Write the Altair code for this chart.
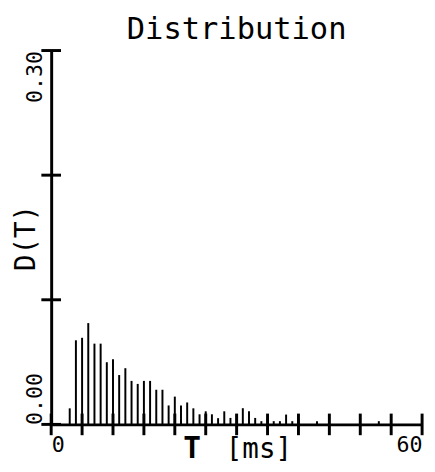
import altair as alt
import pandas as pd

# bar data
T_ms = [3, 4, 5, 6, 7, 8, 9, 10, 11, 12, 13, 14, 15, 16, 17, 18, 19, 20,
        21, 22, 23, 24, 25, 26, 27, 28, 29, 30, 31, 32, 33, 34, 35, 36, 37,
        38, 39, 40, 43, 53]
D_T = [0.0129, 0.0675, 0.0695, 0.0813, 0.0648, 0.0648, 0.0499, 0.0522,
       0.0396, 0.0451, 0.0349, 0.0325, 0.0349, 0.0349, 0.0278, 0.0278,
       0.0152, 0.0223, 0.0152, 0.0176, 0.0129, 0.0081, 0.0105, 0.0081,
       0.0050, 0.0105, 0.0052, 0.0084, 0.0130, 0.0105, 0.0052, 0.0026,
       0.0050, 0.0026, 0.0026, 0.0079, 0.0026, 0.0040, 0.0026, 0.0026]

x_ticks = [0, 5, 10, 15, 20, 25, 30, 35, 40, 45, 50, 55, 60]
y_ticks = [0.0, 0.1, 0.2, 0.3]
x_labels = [0, 60]
y_labels = [0.0, 0.3]
chart_title = "Distribution"
x_title_parts = ["T", "[ms]"]
x_title_pos = [22.8, 33.6]  # in ms, where each part is centred
x_title_weight = ["bold", "normal"]

FONT = "DejaVu Sans Mono"
xs = alt.Scale(domain=[0, 60], nice=False, zero=False, padding=0)
ys = alt.Scale(domain=[0, 0.3], nice=False, padding=0)

bars = pd.DataFrame({"T": T_ms, "D": D_T})
xt = pd.DataFrame({"T": x_ticks})
yt = pd.DataFrame({"D": y_ticks})

x_axis = alt.Axis(values=x_labels, format="d", labelFlush=True, ticks=False,
                  grid=False, domainWidth=3, domainColor="black",
                  labelFont=FONT, labelFontSize=22, labelColor="black",
                  labelPadding=11, title=None)
y_axis = alt.Axis(values=y_labels, format=".2f", labelFlush=False,
                  ticks=False, grid=False, domainWidth=3, domainColor="black",
                  labelAngle=270,
                  labelAlign={"condition": {"test": "datum.value < 0.15",
                                            "value": "left"},
                              "value": "right"},
                  labelBaseline="alphabetic", labelPadding=10,
                  labelFont=FONT, labelFontSize=22, labelColor="black",
                  title="D(T)", titleFont=FONT, titleFontSize=28,
                  titleFontWeight="normal", titleColor="black",
                  titleAngle=270, titleBaseline="middle", titleX=-25)

bar_layer = alt.Chart(bars).mark_bar(size=2, color="black").encode(
    x=alt.X("T:Q", scale=xs, axis=x_axis),
    y=alt.Y("D:Q", scale=ys, axis=y_axis),
)

xtick_layer = alt.Chart(xt).mark_tick(
    orient="vertical", size=22, thickness=3, color="black", opacity=1
).encode(
    x=alt.X("T:Q", scale=xs),
    y=alt.datum(0),
)

ytick_layer = alt.Chart(yt).mark_tick(
    orient="horizontal", size=20, thickness=3, color="black", opacity=1
).encode(
    y=alt.Y("D:Q", scale=ys),
    x=alt.datum(0),
)

title_layer = alt.Chart(pd.DataFrame({"t": [chart_title]})).mark_text(
    font=FONT, fontSize=31, color="black", baseline="alphabetic",
    align="center"
).encode(
    text="t:N",
    x=alt.datum(30),
    y=alt.value(-12),
)

xtitle_df = pd.DataFrame({"txt": x_title_parts, "pos": x_title_pos,
                          "w": x_title_weight})
xtitle_bold = alt.Chart(xtitle_df).transform_filter(
    "datum.w == 'bold'"
).mark_text(font=FONT, fontSize=30, fontWeight="bold", color="black",
            baseline="alphabetic", align="center").encode(
    text="txt:N",
    x=alt.X("pos:Q", scale=xs),
    y=alt.value(381 + 34),
)
xtitle_norm = alt.Chart(xtitle_df).transform_filter(
    "datum.w == 'normal'"
).mark_text(font=FONT, fontSize=28, color="black",
            baseline="alphabetic", align="center").encode(
    text="txt:N",
    x=alt.X("pos:Q", scale=xs),
    y=alt.value(381 + 34),
)

chart = alt.layer(
    bar_layer, xtick_layer, ytick_layer, title_layer, xtitle_bold, xtitle_norm
).properties(
    width=378,
    height=381,
    autosize=alt.AutoSizeParams(type="none"),
    padding={"left": 44, "top": 39, "right": 5, "bottom": 36},
    background="white",
).configure_view(stroke=None)

chart.save("out.html", embed_options={"renderer": "svg", "actions": False})
